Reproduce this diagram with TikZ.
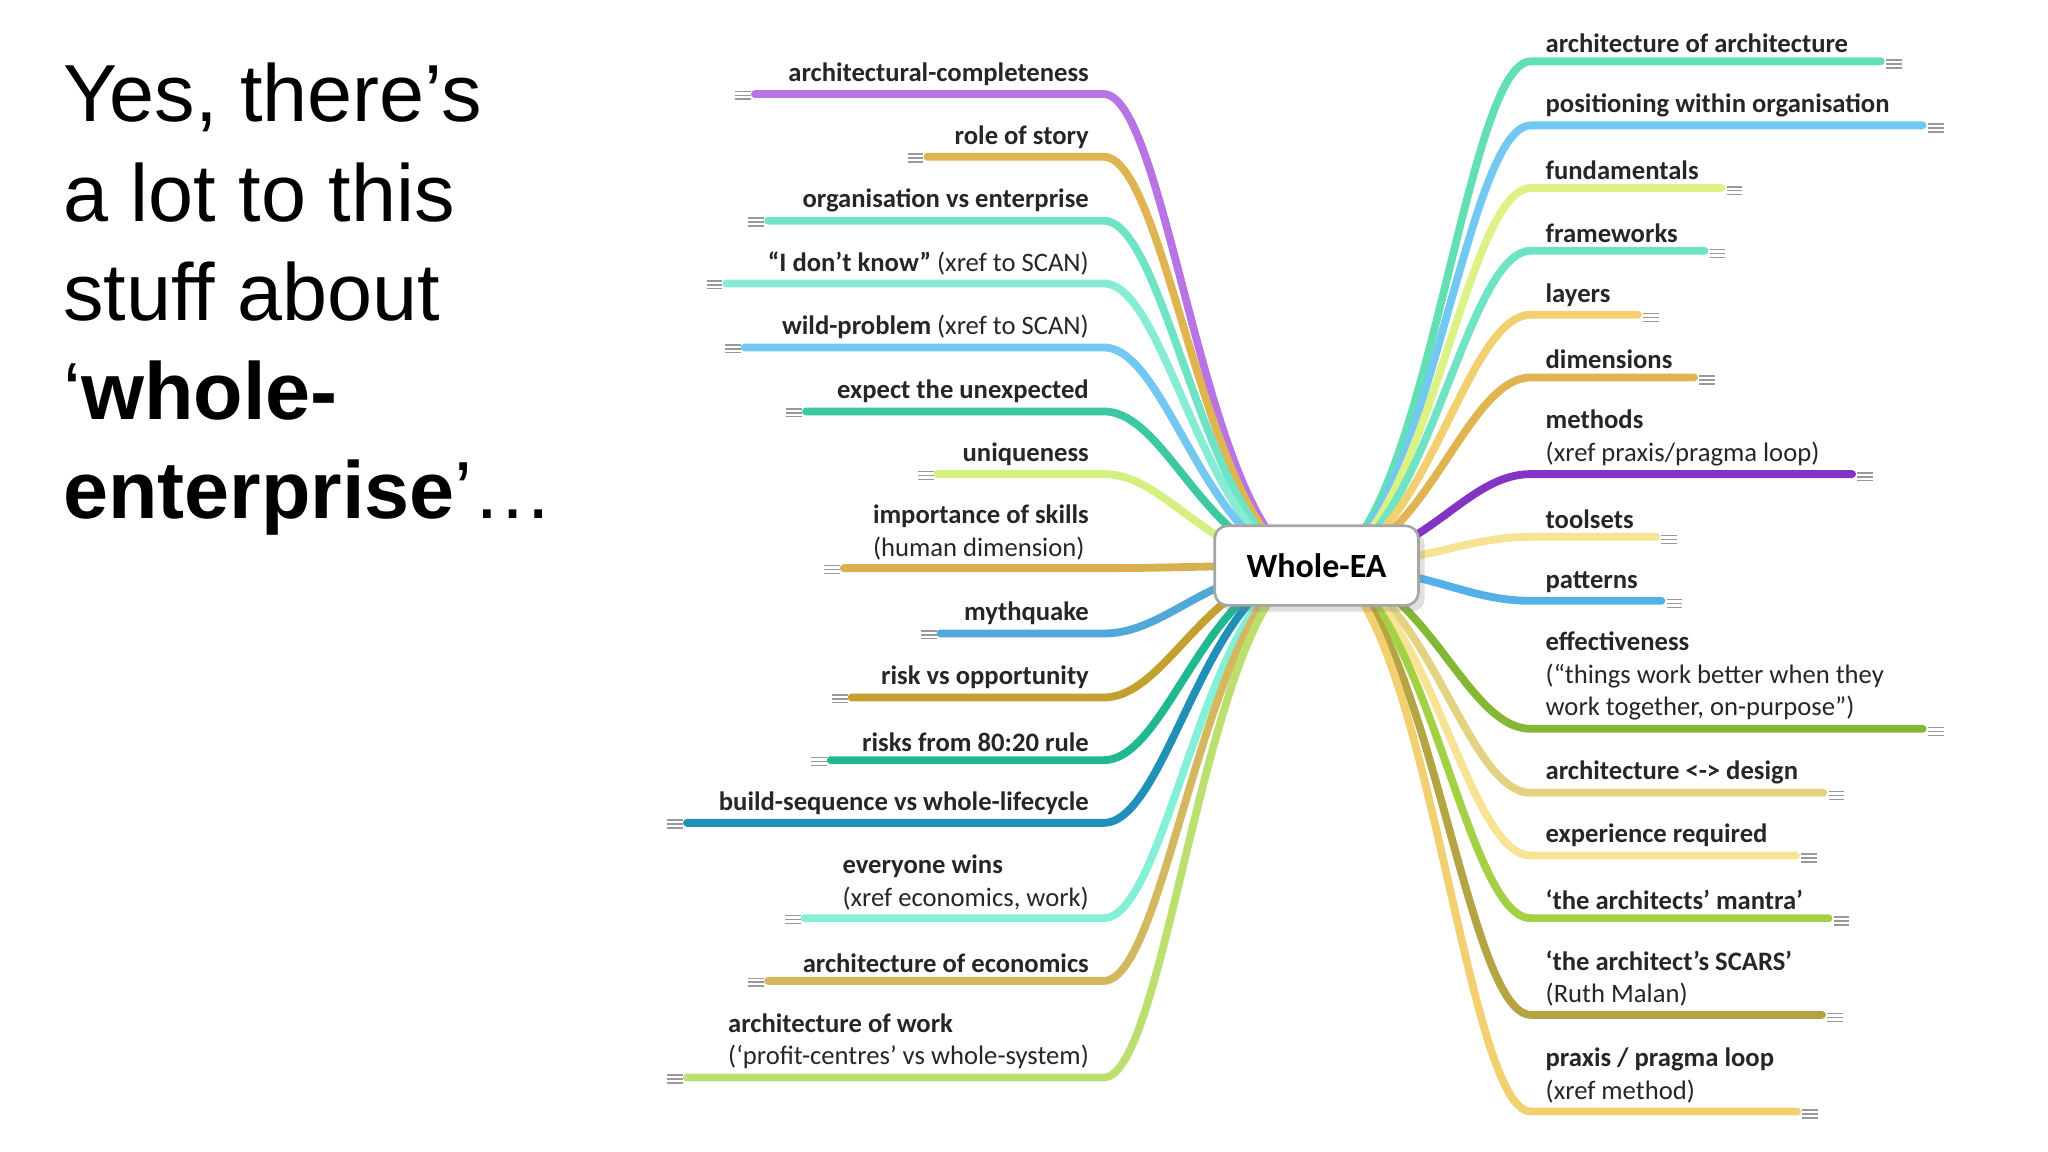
\documentclass[tikz,border=0pt]{standalone}
\usepackage{fontspec}
\setmainfont{Carlito}
\newfontfamily\titlefont{Liberation Sans}
\usetikzlibrary{shadows}
\definecolor{cpurple}{HTML}{B874E4}
\definecolor{cgold}{HTML}{E0B450}
\definecolor{caqua}{HTML}{6EE4C4}
\definecolor{caqua2}{HTML}{86ECD6}
\definecolor{clblue}{HTML}{72C8F0}
\definecolor{cteal}{HTML}{3CC8A0}
\definecolor{cyg}{HTML}{D4F080}
\definecolor{cgold2}{HTML}{D8B050}
\definecolor{cblue}{HTML}{50A8D8}
\definecolor{cdgold}{HTML}{C4A030}
\definecolor{cteal2}{HTML}{20B890}
\definecolor{cdteal}{HTML}{2090B8}
\definecolor{caqua3}{HTML}{84F0D8}
\definecolor{ckhaki}{HTML}{D4B860}
\definecolor{clgreen}{HTML}{BCE070}
\definecolor{cag}{HTML}{62E0B4}
\definecolor{clime}{HTML}{DCF284}
\definecolor{cyel}{HTML}{F2D070}
\definecolor{cdpurple}{HTML}{8434C4}
\definecolor{cpale}{HTML}{F8E294}
\definecolor{cpblue}{HTML}{54B0E8}
\definecolor{cgreen}{HTML}{84B834}
\definecolor{ckhaki2}{HTML}{E2D282}
\definecolor{cgreen2}{HTML}{A4D044}
\definecolor{colive}{HTML}{B4A444}
\tikzset{
  br/.style={line width=3pt,line cap=round},
  icn/.style={draw=gray!80,line width=0.6pt},
  lab/.style={inner sep=0pt,align=left,font=\fontsize{10.2}{12.5}\selectfont,text=black!85},
  hub/.style={draw=gray!70,line width=1pt,rounded corners=5pt,fill=white,minimum width=78pt,minimum height=30.5pt,font=\fontsize{13}{15}\selectfont\bfseries,drop shadow={opacity=0.25}}
}
\newcommand\icon[2]{\draw[icn] (#1-6,#2-3)--(#1+6,#2-3) (#1-6,#2)--(#1+6,#2) (#1-6,#2+3)--(#1+6,#2+3);}
\newcommand\lbr[4]{\draw[br,#3] (C) .. controls (925,433) and (895,#1) .. (845,#1) -- (#2,#1); \icon{#2-9}{#1+1} \node[anchor=south east,lab] at (834,#1-6) {#4};}
\newcommand\rbr[4]{\draw[br,#3] (C) .. controls (1090,433) and (1120,#1) .. (1172,#1) -- (#2,#1); \icon{#2+10}{#1+2} \node[anchor=south west,lab] at (1183,#1-6) {#4};}
\begin{document}
\begin{tikzpicture}[x=0.5pt,y=-0.5pt]
\useasboundingbox (0,0) rectangle (1568,882);
\node[anchor=north west,inner sep=0pt,align=left,font=\titlefont\fontsize{31}{38}\selectfont] (T) at (48,48) {Yes, there’s\\a lot to this\\stuff about\\‘\textbf{whole-}\\\textbf{enterprise}’…};
\coordinate (C) at (1008,433);
\lbr{72}{578}{cpurple}{\textbf{architectural-completeness}}
\lbr{120}{710}{cgold}{\textbf{role of story}}
\lbr{169}{588}{caqua}{\textbf{organisation vs enterprise}}
\lbr{217}{556}{caqua2}{\textbf{“I don’t know”} (xref to SCAN)}
\lbr{266}{570}{clblue}{\textbf{wild-problem} (xref to SCAN)}
\lbr{315}{617}{cteal}{\textbf{expect the unexpected}}
\lbr{363}{718}{cyg}{\textbf{uniqueness}}
\lbr{435}{646}{cgold2}{\textbf{importance of skills}\\(human dimension)}
\lbr{485}{720}{cblue}{\textbf{mythquake}}
\lbr{534}{652}{cdgold}{\textbf{risk vs opportunity}}
\lbr{582}{636}{cteal2}{\textbf{risks from 80:20 rule}}
\lbr{630}{526}{cdteal}{\textbf{build-sequence vs whole-lifecycle}}
\lbr{703}{616}{caqua3}{\textbf{everyone wins}\\(xref economics, work)}
\lbr{751}{588}{ckhaki}{\textbf{architecture of economics}}
\lbr{825}{526}{clgreen}{\textbf{architecture of work}\\(‘profit-centres’ vs whole-system)}
\rbr{47}{1440}{cag}{\textbf{architecture of architecture}}
\rbr{96}{1472}{clblue}{\textbf{positioning within organisation}}
\rbr{144}{1318}{clime}{\textbf{fundamentals}}
\rbr{192}{1305}{caqua}{\textbf{frameworks}}
\rbr{241}{1254}{cyel}{\textbf{layers}}
\rbr{289}{1297}{cgold}{\textbf{dimensions}}
\rbr{363}{1418}{cdpurple}{\textbf{methods}\\(xref praxis/pragma loop)}
\rbr{411}{1268}{cpale}{\textbf{toolsets}}
\rbr{460}{1272}{cpblue}{\textbf{patterns}}
\rbr{558}{1472}{cgreen}{\textbf{effectiveness}\\(“things work better when they\\work together, on-purpose”)}
\rbr{607}{1396}{ckhaki2}{\textbf{architecture <-> design}}
\rbr{655}{1375}{cpale}{\textbf{experience required}}
\rbr{703}{1400}{cgreen2}{\textbf{‘the architects’ mantra’}}
\rbr{777}{1395}{colive}{\textbf{‘the architect’s SCARS’}\\(Ruth Malan)}
\rbr{851}{1376}{cyel}{\textbf{praxis / pragma loop}\\(xref method)}
\node[hub] (W) at (C) {Whole-EA};
\end{tikzpicture}
\end{document}
